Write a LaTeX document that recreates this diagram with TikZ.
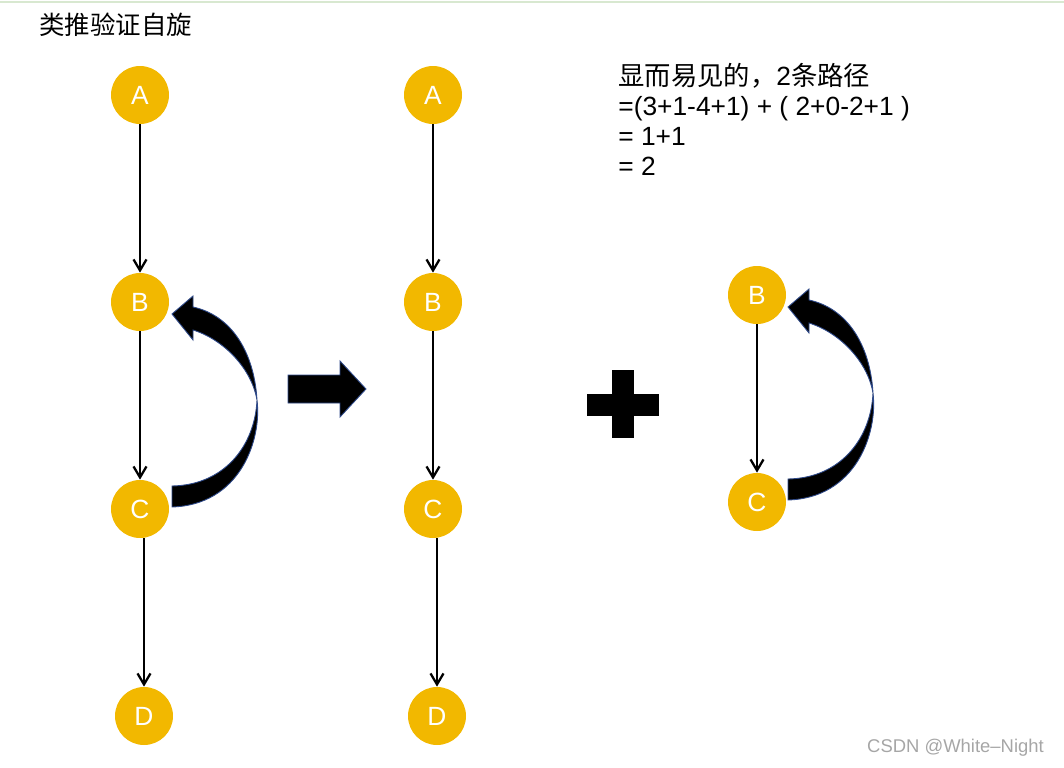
\documentclass[tikz,border=0pt]{standalone}
\usepackage{fontspec}
\setmainfont{Liberation Sans}
\newfontfamily\cjk{Noto Sans CJK SC}
\usepackage{xcolor}
\definecolor{nodeGold}{HTML}{F2B800}
\definecolor{edgeBlue}{HTML}{2F4A8A}
\definecolor{topLine}{HTML}{D8E8D0}
\usetikzlibrary{arrows.meta,positioning}
\tikzset{
  vertex/.style={
    circle,
    fill=nodeGold,
    text=white,
    minimum size=1.16cm,
    inner sep=0pt,
    font=\fontsize{15}{15}\selectfont
 },
  arrowLine/.style={
    -{Straight Barb[length=2.2mm,width=2.6mm]},
    line width=1.3pt,
    color=black
 },
  bigShape/.style={
    fill=black,
    draw=edgeBlue,
    line width=0.5pt
 }
}
\newcommand{\loopArrow}{%
  \path[bigShape] (172,507) .. controls (240,505) and (262,440) .. (257,400)
    .. controls (254,350) and (230,315) .. (193,307) -- (193,296) -- (172,314)
    -- (193,340) -- (193,330) .. controls (225,340) and (252,370) .. (257,400)
    .. controls (255,445) and (225,485) .. (172,486) -- cycle;}

\begin{document}
\begin{tikzpicture}[x=0.02cm,y=-0.02cm]
\useasboundingbox (0,0) rectangle (1064,767);
\draw[topLine, line width=1pt] (0,2) -- (1064,2);

% Title and note
\node[anchor=west, font=\cjk\fontsize{14.5}{14.5}\selectfont] (title) at (33,25) {类推验证自旋};
\node[anchor=north west, align=left, font=\fontsize{15}{17}\selectfont, inner sep=0pt] (note) at (618,63)
  {{\cjk 显而易见的，}2{\cjk 条路径}\\=(3+1-4+1) + ( 2+0-2+1 )\\= 1+1\\= 2};

% Left column
\node[vertex] (a1) at (140,95) {A};
\node[vertex] (b1) at (140,302) {B};
\node[vertex] (c1) at (140,509) {C};
\node[vertex] (d1) at (144,716) {D};

% Middle column
\node[vertex] (a2) at (433,95) {A};
\node[vertex] (b2) at (433,302) {B};
\node[vertex] (c2) at (433,509) {C};
\node[vertex] (d2) at (437,716) {D};

% Right pair
\node[vertex] (b3) at (757,295) {B};
\node[vertex] (c3) at (757,502) {C};

% Edges
\draw[arrowLine] (a1) -- (b1);
\draw[arrowLine] (b1) -- (c1);
\draw[arrowLine] (c1.south -| d1) -- (d1);
\draw[arrowLine] (a2) -- (b2);
\draw[arrowLine] (b2) -- (c2);
\draw[arrowLine] (c2.south -| d2) -- (d2);
\draw[arrowLine] (b3) -- (c3);

% Self-loop arrows
\loopArrow
\begin{scope}[shift={(616,-7)}]
  \loopArrow
\end{scope}

% Block arrow and plus
\path[bigShape] (288,375) -- (340,375) -- (340,361) -- (366,389) -- (340,417)
  -- (340,403) -- (288,403) -- cycle;
\fill[black] (587,394) rectangle (659,416);
\fill[black] (612,370) rectangle (634,438);

% Watermark
\node[anchor=east, text=gray!70, font=\fontsize{10.5}{10.5}\selectfont] (mark) at (1050,748) {CSDN @White--Night};
\end{tikzpicture}
\end{document}
